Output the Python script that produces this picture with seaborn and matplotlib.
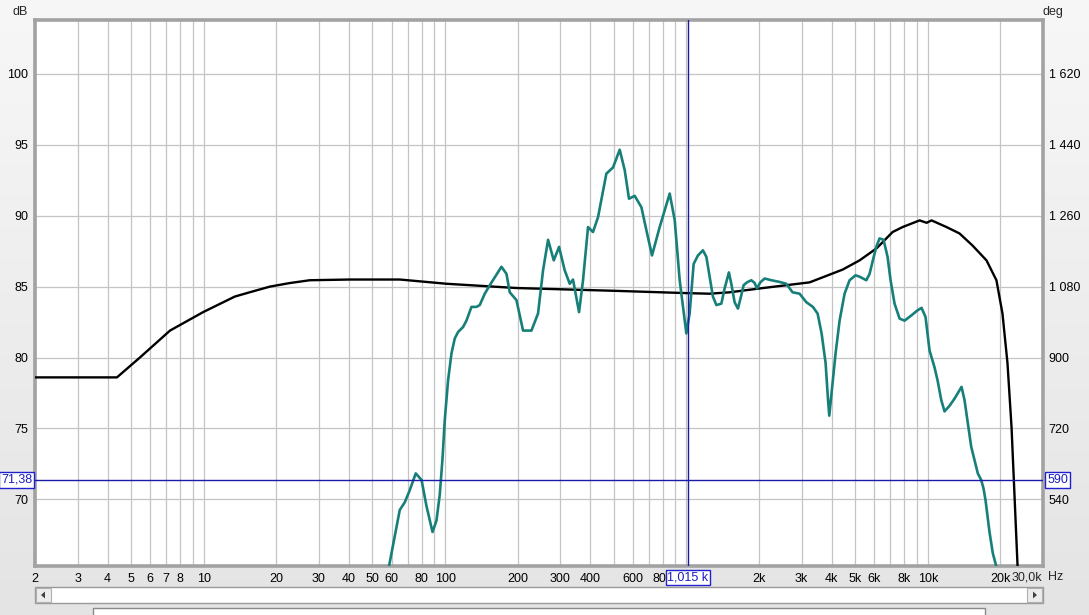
import numpy as np
import pandas as pd
import matplotlib
matplotlib.use("Agg")
import matplotlib.pyplot as plt
import seaborn as sns
from matplotlib.colors import LinearSegmentedColormap
from matplotlib.patches import Rectangle, Polygon
import matplotlib.transforms as mtransforms

# ---------------- data ----------------
black_freq = [2, 4.37, 5.44, 7.25, 9.94, 13.46, 15.5, 18.8, 22.7, 27.5, 40.3, 64.9, 101.7,
              198, 514, 964, 1248, 1510, 2009, 3237, 4436, 5214, 6133, 7146, 7862, 9247,
              9886, 10359, 11950, 13525, 15310, 17500, 19240, 20380, 21380, 22220, 22710,
              23520, 24000]
black_db = [78.6, 78.6, 80.0, 81.9, 83.2, 84.3, 84.6, 85.0, 85.25, 85.45, 85.5, 85.5, 85.2,
            84.9, 84.7, 84.55, 84.5, 84.6, 84.87, 85.3, 86.2, 86.85, 87.7, 88.85, 89.2, 89.67,
            89.5, 89.67, 89.2, 88.75, 87.9, 86.85, 85.45, 83.1, 79.6, 75.1, 71.4,
            65.4, 63.0]

teal_freq = [57.5, 58.6, 61.9, 64.9, 68.1, 71.4, 75.6, 79.9, 83.8, 88.7, 92.1, 95.0, 97.5,
             99.7, 102.9, 106.3, 109.7, 113.2, 118.7, 122.6, 128.6, 134.9, 139.2, 146.0,
             153.2, 171.2, 179.6, 185.3, 197.5, 210.4, 227.9, 242.7, 254.6, 267.1, 282,
             296.6, 313, 328.4, 338.8, 358.9, 372.8, 391, 410, 430.2, 465.8, 496.2, 529,
             555, 578, 610.4, 650.6, 682.4, 719.8, 774.6, 852.2, 893.8, 937.4, 998.8,
             1030.6, 1071, 1116, 1170, 1209, 1247, 1287, 1330, 1395, 1439, 1499, 1534,
             1583, 1634, 1688, 1725, 1781, 1857, 1916, 1959, 2023, 2108, 2247, 2431,
             2592, 2752, 2942, 3138, 3341, 3494, 3630, 3771, 3860, 3905, 3992, 4148,
             4309, 4519, 4741, 5018, 5214, 5559, 5737, 5918, 6115, 6310, 6556, 6810,
             7008, 7280, 7635, 8010, 8562, 9066, 9420, 9782, 10164, 10660, 10970,
             11366, 11728, 12304, 12900, 13530, 13790, 14190, 14644, 15128, 15610,
             16108, 16640, 17008, 17336, 18008, 18586, 19196, 19812]
teal_db = [64.3, 65.3, 67.4, 69.25, 69.8, 70.65, 71.83, 71.36, 69.5, 67.7, 68.5, 70.3, 72.8,
           75.6, 78.4, 80.3, 81.35, 81.8, 82.15, 82.6, 83.57, 83.57, 83.7, 84.5,
           85.1, 86.4, 85.9, 84.6, 84.05, 81.9, 81.9, 83.1, 86.15, 88.3, 86.85,
           87.8, 86.15, 85.2, 85.5, 83.2, 85.45, 89.2, 88.85, 89.9, 92.97, 93.4, 94.65,
           93.2, 91.2, 91.4, 90.6, 88.97, 87.2, 89.2, 91.56, 89.7, 85.45, 81.7,
           83.1, 86.6, 87.2, 87.56, 87.1, 85.7, 84.3, 83.7, 83.8, 84.87, 86.0, 85.2,
           83.9, 83.45, 84.4, 85.1, 85.3, 85.45, 85.26, 84.87, 85.3, 85.57, 85.45, 85.33,
           85.2, 84.6, 84.5, 83.9, 83.57, 83.1, 81.7, 79.6, 77.0, 75.9, 77.5, 80.3,
           82.6, 84.5, 85.45, 85.8, 85.7, 85.45, 85.9, 86.85, 87.8, 88.4, 88.3, 87.1,
           85.45, 83.8, 82.75, 82.6, 82.98, 83.33, 83.5, 82.86, 80.5, 79.3, 78.4,
           77.0, 76.2, 76.6, 77.1, 77.7, 77.93, 77.0, 75.35, 73.7, 72.77,
           71.83, 71.36, 70.77, 69.95, 67.7, 66.2, 65.3, 64.2]

grid_freqs = [2, 3, 4, 5, 6, 7, 8, 9, 10, 20, 30, 40, 50, 60, 70, 80, 90, 100, 200, 300,
              400, 500, 600, 700, 800, 900, 1000, 2000, 3000, 4000, 5000, 6000, 7000,
              8000, 9000, 10000, 20000]
grid_labels = ["2", "3", "4", "5", "6", "7", "8", "", "10", "20", "30", "40", "50", "60",
               "", "80", "", "100", "200", "300", "400", "", "600", "", "800", "", "",
               "2k", "3k", "4k", "5k", "6k", "", "8k", "", "10k", "20k"]
db_ticks = [70, 75, 80, 85, 90, 95, 100]
deg_ticks = [540, 720, 900, 1080, 1260, 1440, 1620]
deg_labels = ["540", "720", "900", "1 080", "1 260", "1 440", "1 620"]
x_min, x_max = 2, 30000
db_min, db_max = 65.3, 103.8
cursor_freq = 1015
cursor_db = 71.38
cursor_deg_label = "590"
cursor_db_label = "71,38"
cursor_freq_label = "1,015 k"

# ---------------- figure ----------------
sns.set_theme(style="white")
plt.rcParams['font.family'] = ['Liberation Sans', 'DejaVu Sans']
FS = 9
W, H = 1089, 615
fig = plt.figure(figsize=(W / 100, H / 100), dpi=100)

# background gradient
bg = fig.add_axes([0, 0, 1, 1], zorder=-10)
grad = np.linspace(0, 1, 256)[:, None]
bg.imshow(grad, aspect='auto', extent=[0, 1, 0, 1],
          cmap=LinearSegmentedColormap.from_list('g', ['#f7f7f7', '#e4e4e4']))
bg.set_axis_off()

def px(x0, y0, x1, y1):
    return [x0 / W, 1 - y1 / H, (x1 - x0) / W, (y1 - y0) / H]

ax = fig.add_axes(px(35, 20, 1043, 566))
ax.set_facecolor('white')

df_black = pd.DataFrame({"freq": black_freq, "db": black_db})
df_teal = pd.DataFrame({"freq": teal_freq, "db": teal_db})

sns.lineplot(data=df_black, x="freq", y="db", ax=ax, color="black", lw=1.7,
             estimator=None, sort=False, zorder=4)
sns.lineplot(data=df_teal, x="freq", y="db", ax=ax, color="#177f79", lw=1.9,
             estimator=None, sort=False, zorder=5)

ax.set_xscale('log')
ax.set_xlim(x_min, x_max)
ax.set_ylim(db_min, db_max)
ax.set_xlabel("")
ax.set_ylabel("")

ax.set_xticks(grid_freqs)
ax.set_xticklabels(grid_labels)
ax.xaxis.set_minor_locator(matplotlib.ticker.NullLocator())
ax.set_yticks(db_ticks)
ax.set_yticklabels([str(v) for v in db_ticks])
ax.tick_params(axis='both', length=0, labelsize=FS, colors='black')
ax.tick_params(axis='x', pad=5)
ax.tick_params(axis='y', pad=5)
ax.grid(True, color='#c4c4c4', lw=0.9, zorder=0)
ax.set_axisbelow(True)
for s in ax.spines.values():
    s.set_color('#a2a2a2')
    s.set_linewidth(2.6)

ax2 = ax.twinx()
ax2.set_ylim(36 * (db_min - 55), 36 * (db_max - 55))
ax2.set_yticks(deg_ticks)
ax2.set_yticklabels(deg_labels)
ax2.tick_params(axis='y', length=0, labelsize=FS, pad=4, colors='black')
ax2.grid(False)
for s in ax2.spines.values():
    s.set_visible(False)

# "30,0k Hz" at the axis end
ax.text(0.9995, -0.021, "30,0k", transform=ax.transAxes, ha='right', va='center',
        fontsize=FS)
ax.text(1.005, -0.021, "Hz", transform=ax.transAxes, ha='left', va='center',
        fontsize=FS)

# cursor lines
cur_col = '#1a1aa8'
ax.axhline(cursor_db, color=cur_col, lw=1.0, zorder=6)
ax.axvline(cursor_freq, color=cur_col, lw=1.0, zorder=6)
box = dict(boxstyle='square,pad=0.15', fc='white', ec='#2020d0', lw=1.0)
tr_y = mtransforms.blended_transform_factory(ax.transAxes, ax.transData)
ax.text(-0.003, cursor_db, cursor_db_label, transform=tr_y, ha='right', va='center',
        fontsize=FS, color='#1c1cc0', bbox=box, zorder=10, clip_on=False)
ax.text(1.004, cursor_db, cursor_deg_label, transform=tr_y, ha='left', va='center',
        fontsize=FS, color='#1c1cc0', bbox=box, zorder=10, clip_on=False)
tr_x = mtransforms.blended_transform_factory(ax.transData, ax.transAxes)
ax.text(cursor_freq, -0.021, cursor_freq_label, transform=tr_x, ha='center', va='center',
        fontsize=FS, color='#1c1cc0', bbox=box, zorder=10, clip_on=False)

# axis unit labels
fig.text(20 / W, 1 - 12 / H, "dB", ha='center', va='center', fontsize=FS)
fig.text(1053 / W, 1 - 12 / H, "deg", ha='center', va='center', fontsize=FS)

# scrollbar
fig.patches.append(Rectangle((35 / W, 1 - 603 / H), (1043 - 35) / W, 16 / H,
                             transform=fig.transFigure, fc='white', ec='#9a9a9a', lw=1.0))
for x0 in (36, 1027):
    fig.patches.append(Rectangle((x0 / W, 1 - 602 / H), 15 / W, 14 / H,
                                 transform=fig.transFigure, fc='#ececec', ec='#b0b0b0', lw=0.8))
fig.patches.append(Polygon([(41 / W, 1 - 595 / H), (45 / W, 1 - 591.5 / H), (45 / W, 1 - 598.5 / H)],
                           closed=True, transform=fig.transFigure, fc='#404040', ec='none'))
fig.patches.append(Polygon([(1037 / W, 1 - 595 / H), (1033 / W, 1 - 591.5 / H), (1033 / W, 1 - 598.5 / H)],
                           closed=True, transform=fig.transFigure, fc='#404040', ec='none'))
# legend panel (cut off at the bottom edge)
fig.patches.append(Rectangle((93 / W, 1 - 618 / H), (985 - 93) / W, 10 / H,
                             transform=fig.transFigure, fc='white', ec='#8a8a8a', lw=1.0))

fig.savefig("out.png", dpi=100)
